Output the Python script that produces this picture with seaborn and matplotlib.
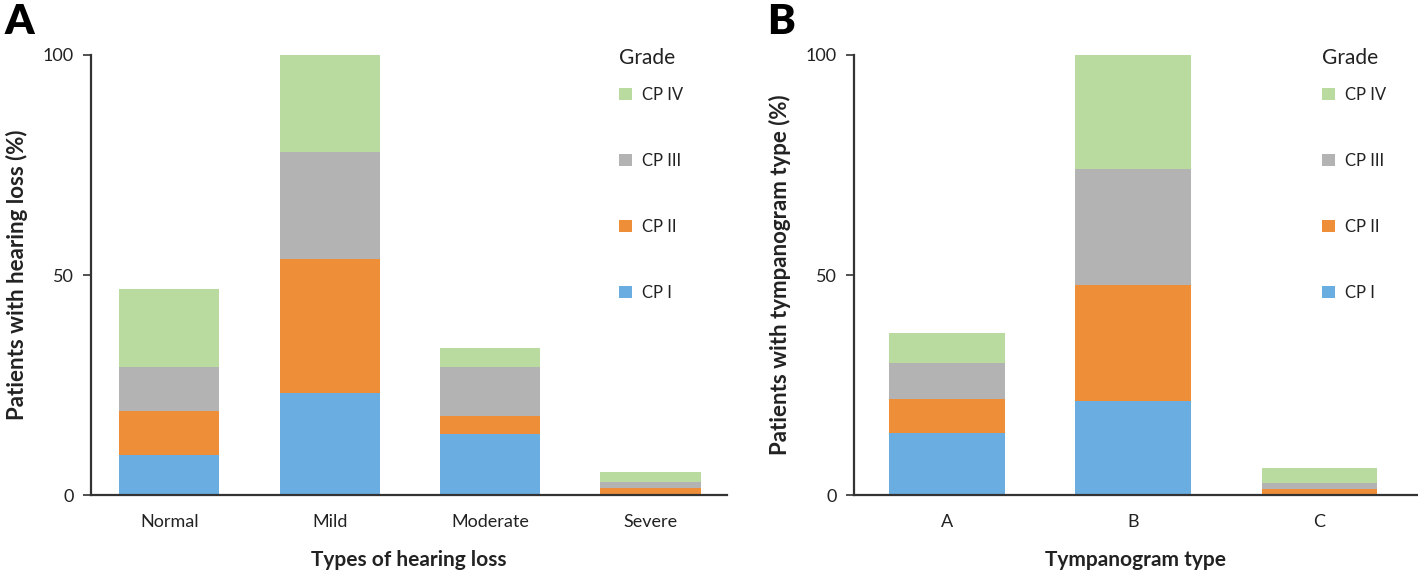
"""Stacked bar charts of chronic pancreatitis grade by hearing loss and tympanogram type."""

import matplotlib
matplotlib.use('Agg')
import matplotlib.pyplot as plt
from matplotlib.patches import Patch
import seaborn as sns
import numpy as np
import pandas as pd

# Data (percent of patients)
grades = ['CP I', 'CP II', 'CP III', 'CP IV']

hearing_types = ['Normal', 'Mild', 'Moderate', 'Severe']
hearing_cp1 = [9.1, 23.2, 13.8, 0.0]
hearing_cp2 = [10.0, 30.4, 4.1, 1.6]
hearing_cp3 = [10.0, 24.4, 11.2, 1.4]
hearing_cp4 = [17.7, 22.0, 4.3, 2.3]

tymp_types = ['A', 'B', 'C']
tymp_cp1 = [14.2, 21.4, 0.0]
tymp_cp2 = [7.7, 26.4, 1.3]
tymp_cp3 = [8.2, 26.4, 1.4]
tymp_cp4 = [6.7, 25.8, 3.5]

y_ticks = [0, 50, 100]

# Style
sns.set_theme(style="white")
plt.rcParams['font.family'] = ['Lato', 'DejaVu Sans']
COLORS = {'CP I': '#6AADE0', 'CP II': '#EF8E39', 'CP III': '#B3B3B3', 'CP IV': '#B9DBA0'}
TEXT = '#222222'


def stacked(ax, cats, series, width):
    df = pd.DataFrame(dict(zip(grades, series)), index=cats)
    cum = df.cumsum(axis=1)
    # draw tallest (cumulative) first so lower segments sit on top
    for g in grades[::-1]:
        sns.barplot(x=cats, y=cum[g].values, color=COLORS[g], width=width,
                    saturation=1, edgecolor='none', linewidth=0, ax=ax)


def style(ax, xlabel, ylabel, xlim):
    ax.set_ylim(0, 100)
    ax.set_xlim(*xlim)
    ax.set_yticks(y_ticks)
    ax.tick_params(axis='y', which='both', left=True, length=6, width=1.2,
                   color='#333333', labelsize=13, labelcolor=TEXT, pad=6)
    ax.tick_params(axis='x', bottom=False, labelsize=13, labelcolor=TEXT, pad=8)
    sns.despine(ax=ax)
    for s in ['left', 'bottom']:
        ax.spines[s].set_color('#333333')
        ax.spines[s].set_linewidth(1.6)
    ax.set_xlabel(xlabel, fontsize=15, fontweight='bold', color=TEXT, labelpad=14)
    ax.set_ylabel(ylabel, fontsize=16, fontweight='bold', color=TEXT, labelpad=11)
    handles = [Patch(facecolor=COLORS[g], edgecolor='none', label=g) for g in grades[::-1]]
    leg = ax.legend(handles=handles, title='Grade', frameon=False, loc='upper left',
                    bbox_to_anchor=(0.83, 1.017), borderaxespad=0, borderpad=0,
                    handlelength=0.75, handleheight=0.75, handletextpad=0.6,
                    labelspacing=3.0, fontsize=12, title_fontsize=15)
    leg._legend_box.align = 'left'
    leg._legend_box.sep = 14
    for t in leg.get_texts():
        t.set_color(TEXT)
    leg.get_title().set_color(TEXT)


fig = plt.figure(figsize=(14.18, 5.74), dpi=100)
ax_a = fig.add_axes([0.064, 0.1376, 0.449, 0.7666])
ax_b = fig.add_axes([0.602, 0.1376, 0.398, 0.7666])

stacked(ax_a, hearing_types, [hearing_cp1, hearing_cp2, hearing_cp3, hearing_cp4], 0.625)
style(ax_a, 'Types of hearing loss', 'Patients with hearing loss (%)', (-0.49, 3.48))

stacked(ax_b, tymp_types, [tymp_cp1, tymp_cp2, tymp_cp3, tymp_cp4], 0.62)
style(ax_b, 'Tympanogram type', 'Patients with tympanogram type (%)', (-0.5, 2.53))

fig.text(0.003, 0.995, 'A', fontsize=30, fontweight='heavy', va='top', ha='left', color='black')
fig.text(0.541, 0.995, 'B', fontsize=30, fontweight='heavy', va='top', ha='left', color='black')

fig.savefig('out.png', dpi=100, facecolor='white')
plt.close(fig)
